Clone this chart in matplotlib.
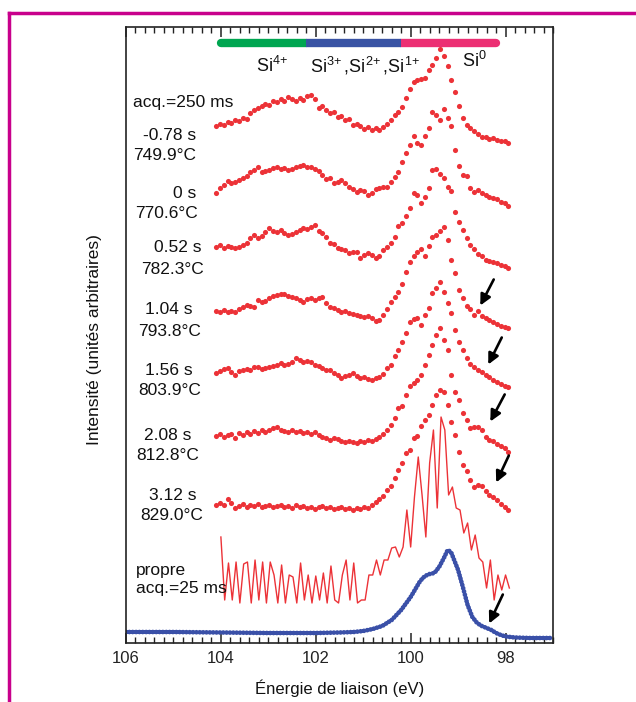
import numpy as np
import matplotlib.pyplot as plt
from matplotlib.lines import Line2D
from matplotlib.ticker import MultipleLocator

plt.rcParams['font.family'] = ['Liberation Sans', 'DejaVu Sans']
plt.rcParams['mathtext.default'] = 'regular'

W, H = 636, 702

# grille en énergie des spectres acq.=250 ms (eV)
energie = np.linspace(104.1, 97.94, 78)
# grille du spectre "propre" acq.=25 ms
energie_propre = np.linspace(104.0, 97.92, 77)

temps = ['-0.78 s', '0 s', '0.52 s', '1.04 s', '1.56 s', '2.08 s', '3.12 s']
temperatures = ['749.9°C', '770.6°C', '782.3°C', '793.8°C', '803.9°C', '812.8°C', '829.0°C']

s_m078 = [24, 26, 25, 28, 27, 30, 29, 32, 31, 37,
          40, 42, 44, 46, 45, 49, 48, 51, 49, 53,
          51, 49, 52, 50, 54, 55, 51, 42, 44, 40,
          37, 38, 33, 34, 30, 31, 25, 26, 24, 21,
          23, 20, 22, 20, 23, 26, 30, 35, 38, 43,
          52, 61, 68, 70, 71, 72, 80, 85, 92, 101,
          94, 84, 70, 58, 44, 32, 25, 22, 19, 16,
          13, 13, 11, 12, 10, 9, 9, 7]
s_000 = [17, 22, 25, 29, 27, 28, 30, 32, 34, 38,
         40, 43, 38, 39, 40, 42, 43, 41, 42, 40,
         41, 43, 44, 45, 43, 43, 41, 39, 35, 31,
         32, 27, 28, 30, 27, 23, 21, 18, 20, 19,
         15, 17, 21, 22, 23, 23, 28, 33, 38, 48,
         57, 65, 74, 67, 65, 74, 82, 98, 95, 90,
         101, 92, 84, 60, 44, 35, 34, 22, 18, 20,
         17, 15, 13, 12, 11, 8, 7, 4]
s_052 = [25, 27, 24, 26, 25, 24, 25, 27, 29, 34,
         37, 34, 36, 40, 44, 41, 40, 42, 39, 37,
         38, 40, 42, 44, 43, 45, 47, 41, 39, 35,
         29, 28, 24, 23, 22, 19, 20, 20, 14, 17,
         19, 17, 14, 16, 22, 25, 29, 35, 46, 49,
         56, 64, 79, 77, 69, 75, 84, 102, 103, 98,
         94, 85, 81, 60, 50, 42, 34, 27, 23, 18,
         16, 12, 11, 10, 9, 7, 6, 4]
s_104 = [21, 20, 22, 20, 21, 20, 23, 25, 27, 26,
         25, 32, 30, 31, 34, 36, 37, 38, 38, 36,
         35, 34, 32, 30, 33, 34, 32, 34, 35, 29,
         25, 24, 22, 20, 21, 19, 18, 17, 16, 15,
         16, 14, 11, 12, 17, 23, 30, 35, 40, 48,
         60, 70, 76, 80, 83, 76, 86, 95, 97, 101,
         105, 92, 72, 59, 42, 34, 26, 23, 17, 21,
         16, 14, 12, 10, 8, 6, 5, 4]
s_156 = [18, 20, 22, 23, 19, 16, 20, 21, 22, 21,
         24, 24, 22, 23, 24, 25, 26, 28, 26, 27,
         29, 33, 31, 29, 30, 29, 26, 25, 23, 21,
         21, 18, 16, 13, 15, 16, 18, 15, 13, 14,
         12, 11, 13, 14, 17, 23, 26, 35, 41, 49,
         58, 69, 72, 73, 66, 76, 83, 98, 103, 109,
         99, 88, 78, 61, 49, 41, 33, 27, 24, 21,
         19, 16, 14, 11, 9, 7, 5, 4]
s_208 = [20, 22, 19, 21, 22, 18, 23, 21, 24, 22,
         25, 23, 26, 24, 26, 28, 29, 26, 25, 24,
         26, 24, 25, 23, 24, 22, 24, 21, 19, 18,
         16, 18, 17, 15, 14, 15, 14, 13, 15, 14,
         16, 15, 17, 19, 22, 26, 31, 38, 48, 50,
         61, 70, 73, 76, 81, 91, 101, 111, 121, 128,
         116, 106, 81, 64, 56, 43, 36, 28, 29, 29,
         26, 19, 16, 15, 12, 10, 8, 4]
s_312 = [9, 11, 9, 15, 11, 6, 8, 10, 7, 9,
         8, 10, 7, 8, 9, 7, 8, 9, 7, 8,
         6, 9, 7, 8, 6, 7, 5, 7, 8, 6,
         7, 5, 6, 7, 5, 6, 4, 6, 5, 7,
         6, 9, 12, 15, 18, 24, 28, 36, 44, 51,
         61, 64, 76, 78, 88, 94, 99, 109, 119, 124,
         122, 109, 92, 79, 62, 49, 43, 34, 27, 29,
         28, 23, 19, 17, 14, 10, 7, 4]

propre_25ms = [69, 6, 43, 6, 44, 3, 42, 44, 3, 46,
               6, 44, 3, 44, 31, 3, 41, 3, 31, 29,
               3, 43, 6, 31, 3, 30, 6, 33, 3, 40,
               6, 3, 31, 46, 6, 43, 3, 6, 6, 31,
               31, 46, 31, 46, 46, 58, 59, 49, 59, 96,
               59, 109, 149, 111, 69, 143, 176, 98, 189, 176,
               111, 119, 98, 96, 73, 83, 56, 71, 48, 44,
               18, 46, 6, 31, 16, 31, 18]

# spectre de référence (bleu)
energie_ref = [106.0, 105.0, 104.0, 103.0, 102.0, 101.5, 101.2, 101.0, 100.8, 100.6,
               100.4, 100.2, 100.0, 99.9, 99.8, 99.7, 99.6, 99.5, 99.4, 99.3,
               99.22, 99.15, 99.1, 99.0, 98.9, 98.8, 98.7, 98.6, 98.5, 98.4,
               98.3, 98.2, 98.1, 98.0, 97.8, 97.5, 97.0]
intensite_ref = [8, 8, 7.5, 7, 7, 7.5, 8, 9, 11, 14,
                 20, 30, 43, 51, 59, 64, 66, 67, 73, 82,
                 90, 88, 82, 70, 53, 35, 23, 17, 14, 12,
                 10, 7, 5, 3.5, 2.5, 2, 2]

spectres = [s_m078, s_000, s_052, s_104, s_156, s_208, s_312]
decalages = [552, 492, 430, 370, 311, 246, 188]

rouge = '#ec3237'
bleu = '#3a50a8'

fig = plt.figure(figsize=(W / 100, H / 100), dpi=100)
ax = fig.add_axes([126 / W, 1 - 643 / H, 427 / W, 616 / H])

for s, d in zip(spectres, decalages):
    ax.plot(energie, np.array(s) + d, 'o', color=rouge, ms=3.7, mew=0)

ax.plot(energie_propre, np.array(propre_25ms) + 96, '-', color=rouge, lw=1.0)
ax.plot(energie_ref, np.array(intensite_ref) + 62, color=bleu, lw=3.4,
        linestyle=(0, (0.01, 0.7)), dash_capstyle='round')

# barres des états d'oxydation
yb = 659
ax.plot([104.0, 102.2], [yb, yb], color='#00a651', lw=6, solid_capstyle='round')
ax.plot([100.2, 98.2], [yb, yb], color='#ec2f73', lw=6, solid_capstyle='round')
ax.plot([102.2, 100.2], [yb, yb], color='#3953a4', lw=6, solid_capstyle='butt')

ax.set_xlim(106, 97)
ax.set_ylim(59, 675)
ax.set_yticks([])
ax.xaxis.set_major_locator(MultipleLocator(2))
ax.xaxis.set_minor_locator(MultipleLocator(0.2))
ax.tick_params(which='both', direction='in', top=True, bottom=True, colors='#222222')
ax.tick_params(which='major', length=7, width=1.1, labelsize=12, pad=6)
ax.tick_params(which='minor', length=4, width=1.0)
for sp in ax.spines.values():
    sp.set_color('#222222')
    sp.set_linewidth(1.2)


def txt(x, y, s, ha='center', size=12.5):
    fig.text(x / W, 1 - y / H, s, ha=ha, va='center', fontsize=size, color='#111111')


txt(272, 66, 'Si$^{4\\!+}$', size=13)
txt(365, 66, 'Si$^{3\\!+}$,Si$^{2\\!+}$,Si$^{1\\!+}$', size=13)
txt(474, 61, 'Si$^{0}$', size=13)

txt(133, 102, 'acq.=250 ms', ha='left')
cx_t = [170, 185, 178, 169, 169, 168, 173]
cx_T = [165, 166, 172, 170, 170, 168, 172]
y_t = [135, 193, 248, 310, 370, 435, 495]
for i in range(7):
    txt(cx_t[i], y_t[i], temps[i])
    txt(cx_T[i], y_t[i] + 21, temperatures[i])
txt(136, 570, 'propre', ha='left')
txt(136, 589, 'acq.=25 ms', ha='left')

fig.text(95 / W, 1 - 340 / H, 'Intensité (unités arbitraires)', rotation=90,
         ha='center', va='center', fontsize=12.5, color='#111111')
fig.text(340 / W, 1 - 688 / H, 'Énergie de liaison (eV)', ha='center', va='center',
         fontsize=12, color='#111111')

# flèches
fleches = [((495, 277), (479, 308)), ((503, 335), (487, 367)), ((506, 392), (489, 424)),
           ((510, 453), (495, 485)), ((504, 592), (488, 626))]
for (x0, y0), (x1, y1) in fleches:
    ax.annotate('', xy=(x1, H - y1), xytext=(x0, H - y0), xycoords='figure pixels',
                textcoords='figure pixels',
                arrowprops=dict(arrowstyle='-|>', color='black', lw=1.9, mutation_scale=16))

# cadre magenta
mag = '#c8008c'
fig.add_artist(Line2D([9 / W, 9 / W], [0, 1 - 13 / H], transform=fig.transFigure, color=mag, lw=2.5))
fig.add_artist(Line2D([9 / W, 1], [1 - 13 / H, 1 - 13 / H], transform=fig.transFigure, color=mag, lw=2.5))

fig.savefig('out.png', dpi=100)
